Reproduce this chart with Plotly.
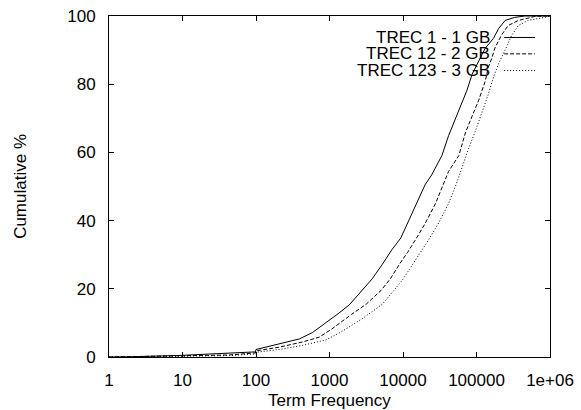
import plotly.graph_objects as go

# ---- data ----
series_names = ["TREC 1 - 1 GB", "TREC 12 - 2 GB", "TREC 123 - 3 GB"]

freq_trec1 = [1, 2.3, 10, 16.6, 43.7, 98, 100, 209, 389, 589,
              891, 1349, 1862, 2818, 3802, 5248, 7079, 9333, 12023, 15488,
              19953, 24547, 33884, 41687, 51286, 63096, 74131, 87096, 107152, 131826,
              169824, 199526, 245471, 331131, 457088, 1000000]
cum_trec1 = [0, 0.1, 0.5, 0.7, 1.05, 1.5, 2.2, 3.9, 5.3, 7.2,
             10.0, 12.9, 15.3, 19.6, 22.9, 27.2, 31.5, 34.9, 40.1, 44.9,
             50.5, 53.4, 59.1, 64.9, 69.6, 74.4, 78.2, 82.9, 87.0, 90.6,
             93.4, 96.3, 98.7, 99.6, 100, 100]

freq_trec12 = [1, 10, 20, 43.7, 98, 100, 209, 427, 724, 1072,
               1995, 3162, 5012, 6761, 9120, 11482, 14791, 19953, 27542, 35481,
               41687, 57544, 70795, 87096, 107152, 131826, 144544, 162181, 177828, 218776,
               269153, 371535, 630957, 1000000]
cum_trec12 = [0, 0.25, 0.4, 0.6, 1.2, 1.8, 2.9, 4.4, 5.8, 8.2,
              12.5, 15.5, 19.5, 23.0, 27.5, 30.6, 34.4, 39.1, 44.9, 50.6,
              54.4, 59.1, 65.8, 70.6, 75.3, 81.0, 84.9, 87.7, 90.6, 94.4,
              97.2, 98.7, 99.9, 100]

freq_trec123 = [1, 10, 20, 43.7, 98, 100, 209, 427, 891, 1479,
                2818, 5248, 9772, 14791, 22387, 30903, 41687, 53703, 63096, 77625,
                95499, 117490, 144544, 169824, 199526, 257040, 301995, 371535, 501187, 851138,
                1000000]
cum_trec123 = [0, 0.15, 0.25, 0.4, 0.9, 1.4, 2.2, 3.4, 5.0, 7.5,
               11.3, 15.5, 22.5, 28.5, 34.4, 39.5, 45.0, 51.0, 55.5, 61.0,
               66.0, 71.5, 77.0, 82.0, 86.0, 91.0, 94.4, 97.2, 98.7, 99.6,
               100]

x_tick_vals = [1, 10, 100, 1000, 10000, 100000, 1000000]
x_tick_text = ["1", "10", "100", "1000", "10000", "100000", "1e+06"]
y_tick_vals = [0, 20, 40, 60, 80, 100]

x_title = "Term Frequency"
y_title = "Cumulative %"

# ---- figure ----
FONT = "Liberation Sans, Arial, Helvetica, sans-serif"
dashes = ["solid", "4px,2px", "1px,2px"]
xs = [freq_trec1, freq_trec12, freq_trec123]
ys = [cum_trec1, cum_trec12, cum_trec123]

fig = go.Figure()
for name, x, y, d in zip(series_names, xs, ys, dashes):
    fig.add_trace(go.Scatter(x=x, y=y, mode="lines", name=name, showlegend=False,
                             line=dict(color="black", width=1, dash=d)))

# gnuplot-style key: right-aligned text with the line sample on the right
key_y = [0.937, 0.889, 0.840]
annotations = []
shapes = []
for name, ky, d in zip(series_names, key_y, dashes):
    annotations.append(dict(text=name, x=0.868, y=ky, xref="paper", yref="paper",
                            xanchor="right", yanchor="middle", showarrow=False,
                            font=dict(family=FONT, size=17, color="black")))
    shapes.append(dict(type="line", xref="paper", yref="paper", x0=0.896, x1=0.966,
                       y0=ky, y1=ky, line=dict(color="black", width=1, dash=d)))

annotations.append(dict(text=x_title, x=0.5, y=-0.127, xref="paper", yref="paper",
                        xanchor="center", yanchor="middle", showarrow=False,
                        font=dict(family=FONT, size=17, color="black")))
annotations.append(dict(text=y_title, x=-0.201, y=0.5, xref="paper", yref="paper",
                        xanchor="center", yanchor="middle", showarrow=False, textangle=-90,
                        font=dict(family=FONT, size=17, color="black")))

axis_common = dict(showgrid=False, zeroline=False, showline=True, linecolor="black",
                   linewidth=1, mirror="ticks", ticks="inside", ticklen=5,
                   tickcolor="black", tickwidth=1, ticklabeloverflow="allow",
                   tickfont=dict(family=FONT, size=17, color="black"))

fig.update_layout(
    width=581, height=410,
    margin=dict(l=109, r=29, t=7, b=53),
    paper_bgcolor="white", plot_bgcolor="white",
    font=dict(family=FONT, size=17, color="black"),
    xaxis=dict(type="log", range=[0, 6], tickvals=x_tick_vals, ticktext=x_tick_text,
               ticklabelstandoff=8, **axis_common),
    yaxis=dict(range=[0, 100], tickvals=y_tick_vals, ticklabelstandoff=9, **axis_common),
    annotations=annotations,
    shapes=shapes,
)

fig.write_html("out.html",
               config={"displayModeBar": False},
               post_script="document.body.style.margin='0';document.body.style.overflow='hidden';")
